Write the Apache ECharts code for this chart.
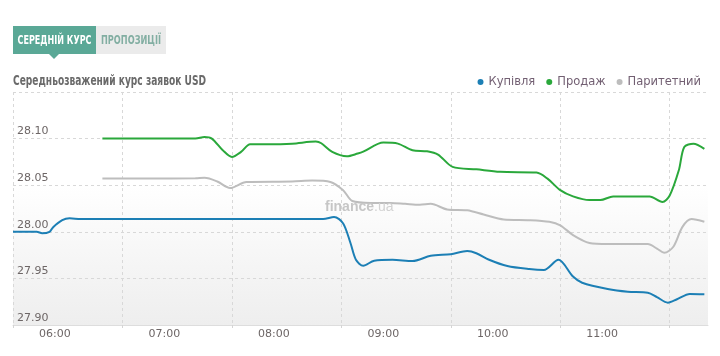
<!DOCTYPE html>
<html><head><meta charset="utf-8">
<script src="https://cdn.jsdelivr.net/npm/echarts@6/dist/echarts.min.js"></script>
<style>html,body{margin:0;padding:0;background:#fff}#c{width:720px;height:356px}</style>
</head><body><div id="c"></div>
<script>
const seriesNames = ['Купівля', 'Продаж', 'Паритетний'];
const buyTimes = ['05:37','05:50','05:53','05:57','05:59','06:04','06:08','06:14','07:30','08:27','08:33','08:38','08:42','08:45','08:49','08:55','09:05','09:16','09:26','09:37','09:46','09:51','09:58','10:08','10:20','10:28','10:36','10:44','10:49','11:03','11:14','11:25','11:30','11:36','11:41','11:48','11:56'];
const buyValues = [28.000,28.000,27.9985,28.000,28.005,28.0125,28.0145,28.0137,28.0137,28.0137,28.016,28.009,27.988,27.970,27.9636,27.969,27.970,27.9686,27.9743,27.976,27.9793,27.977,27.970,27.9633,27.960,27.959,27.970,27.952,27.9454,27.9387,27.9358,27.9347,27.930,27.924,27.9276,27.9333,27.933];
const sellTimes = ['06:26','06:50','07:17','07:22','07:26','07:32','07:37','07:42','07:47','07:56','08:10','08:23','08:26','08:32','08:40','08:46','08:49','09:00','09:08','09:16','09:24','09:30','09:38','09:51','10:04','10:24','10:30','10:37','10:44','10:53','10:59','11:06','11:26','11:33','11:37','11:42','11:45','11:50','11:56'];
const sellValues = [28.100,28.100,28.100,28.1017,28.100,28.0875,28.0803,28.0857,28.094,28.094,28.0946,28.0968,28.095,28.0857,28.081,28.084,28.086,28.0957,28.0946,28.0875,28.0864,28.0829,28.0696,28.067,28.0643,28.0636,28.057,28.0447,28.038,28.034,28.034,28.038,28.038,28.032,28.039,28.066,28.091,28.0946,28.089];
const parTimes = ['06:26','06:50','07:17','07:22','07:29','07:36','07:45','08:10','08:21','08:31','08:38','08:43','08:53','09:04','09:12','09:20','09:26','09:35','09:46','09:55','10:06','10:20','10:31','10:37','10:44','10:53','11:03','11:25','11:30','11:34','11:39','11:44','11:49','11:56'];
const parValues = [28.0572,28.0572,28.0575,28.058,28.054,28.047,28.0535,28.054,28.055,28.0535,28.0446,28.033,28.031,28.031,28.030,28.029,28.030,28.024,28.023,28.0186,28.0133,28.0125,28.0107,28.007,27.9965,27.988,27.9868,27.9868,27.982,27.9775,27.984,28.0053,28.0136,28.0107];
const hourLabels = ['06:00','07:00','08:00','09:00','10:00','11:00'];
const gridTimes = ['05:37','06:37','07:37','08:37','09:37','10:37','11:37'];
const xRange = ['05:37','11:58'];
const yRange = [27.90, 28.15];
const yStep = 0.05;
const titleText = 'Середньозважений курс заявок USD';
const tabTexts = ['СЕРЕДНІЙ КУРС', 'ПРОПОЗИЦІЇ'];
const colors = ['#1c7fb5', '#2aa83b', '#bdbdbd'];

const toMin = s => { const p = s.split(':').map(Number); return p[0] * 60 + p[1]; };
const fmt = v => { const h = Math.floor(v / 60), m = Math.round(v - h * 60); return String(h).padStart(2, '0') + ':' + String(m).padStart(2, '0'); };
const pair = (t, v) => t.map((s, i) => [toMin(s), v[i]]);

// condensed look: squeeze a normal font horizontally to the measured width
const ctx = document.createElement('canvas').getContext('2d');
const squeeze = (text, font, width) => { ctx.font = font; return width / ctx.measureText(text).width; };
const titleFont = 'bold 14px "DejaVu Sans"';
const tabFont = 'bold 11.5px "DejaVu Sans"';

const chart = echarts.init(document.getElementById('c'), null, { renderer: 'canvas' });
chart.setOption({
  animation: false,
  legend: {
    data: seriesNames, right: 19, top: 76, padding: 0, icon: 'circle',
    itemWidth: 6, itemHeight: 6, itemGap: 11,
    textStyle: { fontSize: 11.5, color: '#725f72', fontFamily: 'DejaVu Sans' }
  },
  grid: {
    left: 13, right: 12, top: 92, bottom: 31, show: true, borderWidth: 0,
    backgroundColor: { type: 'linear', x: 0, y: 0, x2: 0, y2: 1,
      colorStops: [{ offset: 0, color: '#ffffff' }, { offset: 0.4, color: '#ffffff' }, { offset: 1, color: '#eeeeee' }] }
  },
  xAxis: {
    type: 'value', min: toMin(xRange[0]), max: toMin(xRange[1]),
    axisLine: { show: true, lineStyle: { color: '#dddddd', width: 1 } },
    axisTick: { show: true, customValues: gridTimes.map(toMin), length: 5, lineStyle: { color: '#d4d4d4', type: [3, 2] } },
    axisLabel: { customValues: hourLabels.map(toMin), formatter: fmt, color: '#6d6666', fontSize: 11, margin: 4, fontFamily: 'DejaVu Sans' },
    splitLine: { show: true, lineStyle: { color: '#d8d8d8', type: [3, 3] } }
  },
  yAxis: {
    type: 'value', min: yRange[0], max: yRange[1], interval: yStep,
    axisLine: { show: false }, axisTick: { show: false },
    axisLabel: { inside: true, margin: 4, showMaxLabel: false, verticalAlign: 'bottom', lineHeight: 12, padding: [0, 0, 1, 0],
      formatter: v => v.toFixed(2), color: '#6d6666', fontSize: 11, fontFamily: 'DejaVu Sans' },
    splitLine: { show: true, lineStyle: { color: '#d8d8d8', type: [3, 3] } }
  },
  series: [
    { name: seriesNames[0], type: 'line', data: pair(buyTimes, buyValues) },
    { name: seriesNames[1], type: 'line', data: pair(sellTimes, sellValues) },
    { name: seriesNames[2], type: 'line', data: pair(parTimes, parValues) }
  ].map((s, i) => Object.assign(s, { smooth: 0.3, showSymbol: false, symbol: 'none', color: colors[i], lineStyle: { width: 2, color: colors[i] } })),
  graphic: [
    { type: 'rect', shape: { x: 13, y: 26, width: 83, height: 28 }, style: { fill: '#5aa896' } },
    { type: 'polygon', shape: { points: [[49, 54], [59, 54], [54, 59]] }, style: { fill: '#5aa896' } },
    { type: 'rect', shape: { x: 96, y: 26, width: 70, height: 28 }, style: { fill: '#ebebeb' } },
    { type: 'text', x: 54.5, y: 41, scaleX: squeeze(tabTexts[0], tabFont, 74),
      style: { text: tabTexts[0], fill: '#ffffff', align: 'center', verticalAlign: 'middle', font: tabFont } },
    { type: 'text', x: 131, y: 41, scaleX: squeeze(tabTexts[1], tabFont, 60),
      style: { text: tabTexts[1], fill: '#82aea2', align: 'center', verticalAlign: 'middle', font: tabFont } },
    { type: 'text', x: 13, y: 81.5, scaleX: squeeze(titleText, titleFont, 193),
      style: { text: titleText, fill: '#6a6a6a', align: 'left', verticalAlign: 'middle', font: titleFont } },
    { type: 'text', x: 325, y: 207, z: 100, style: { text: '{a|finance}{b|.ua}', verticalAlign: 'middle',
      rich: { a: { fontSize: 14, fontWeight: 'bold', fill: '#c6c6c6', fontFamily: 'Liberation Sans' }, b: { fontSize: 14, fill: '#d2d2d2', fontFamily: 'Liberation Sans' } } } }
  ]
});
</script>
</body></html>
